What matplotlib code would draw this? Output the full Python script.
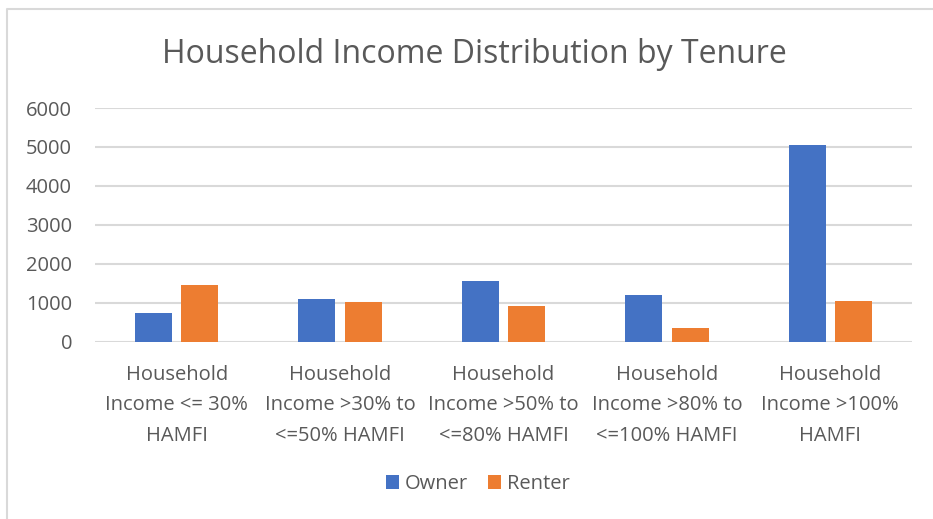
import numpy as np
import matplotlib.pyplot as plt
from matplotlib.lines import Line2D

categories = ["Household\nIncome <= 30%\nHAMFI",
              "Household\nIncome >30% to\n<=50% HAMFI",
              "Household\nIncome >50% to\n<=80% HAMFI",
              "Household\nIncome >80% to\n<=100% HAMFI",
              "Household\nIncome >100%\nHAMFI"]
owner = [730, 1085, 1550, 1205, 5060]
renter = [1455, 1020, 915, 350, 1045]
yticks = [0, 1000, 2000, 3000, 4000, 5000, 6000]

text_color = "#595959"
plt.rcParams["font.family"] = ["Open Sans", "DejaVu Sans"]

W, H = 933, 519
fig = plt.figure(figsize=(W / 100, H / 100), dpi=100)
# chart box edge (cropped screenshot: only top and left edges show)
fig.lines.append(Line2D([7.5 / W, 7.5 / W, 1], [0, 1 - 9 / H, 1 - 9 / H],
                        transform=fig.transFigure, color="#d9d9d9", linewidth=1.5))

ax = fig.add_axes([95 / W, 1 - 341.7 / H, (912 - 95) / W, (341.7 - 108) / H])

x = np.arange(len(categories))
w = 0.226
off = 0.142
ax.bar(x - off, owner, width=w, color="#4472C4", label="Owner", zorder=3)
ax.bar(x + off, renter, width=w, color="#ED7D31", label="Renter", zorder=3)

ax.set_xlim(-0.5, len(categories) - 0.5)
ax.set_ylim(0, 6000)
ax.set_yticks(yticks)
ax.set_yticklabels([str(t) for t in yticks])
ax.yaxis.grid(True, color="#d9d9d9", linewidth=1.5, zorder=0)
ax.set_axisbelow(True)
for s in ax.spines.values():
    s.set_visible(False)
ax.tick_params(axis="y", length=0, pad=16.5, labelsize=14.5, labelcolor=text_color)
ax.set_xticks(x)
ax.set_xticklabels(categories, fontsize=14.5, color=text_color, linespacing=1.7)
ax.tick_params(axis="x", length=0, pad=16.5)

fig.text(474 / W, 1 - 54 / H, "Household Income Distribution by Tenure",
         ha="center", va="center", fontsize=23, color=text_color)

leg = fig.legend(loc="center", bbox_to_anchor=(478 / W, 1 - 484 / H), ncol=2, frameon=False,
                 fontsize=14.5, handlelength=0.65, handleheight=0.65, handletextpad=0.3,
                 columnspacing=1.0)
for t in leg.get_texts():
    t.set_color(text_color)

fig.savefig("out.png", dpi=100)
